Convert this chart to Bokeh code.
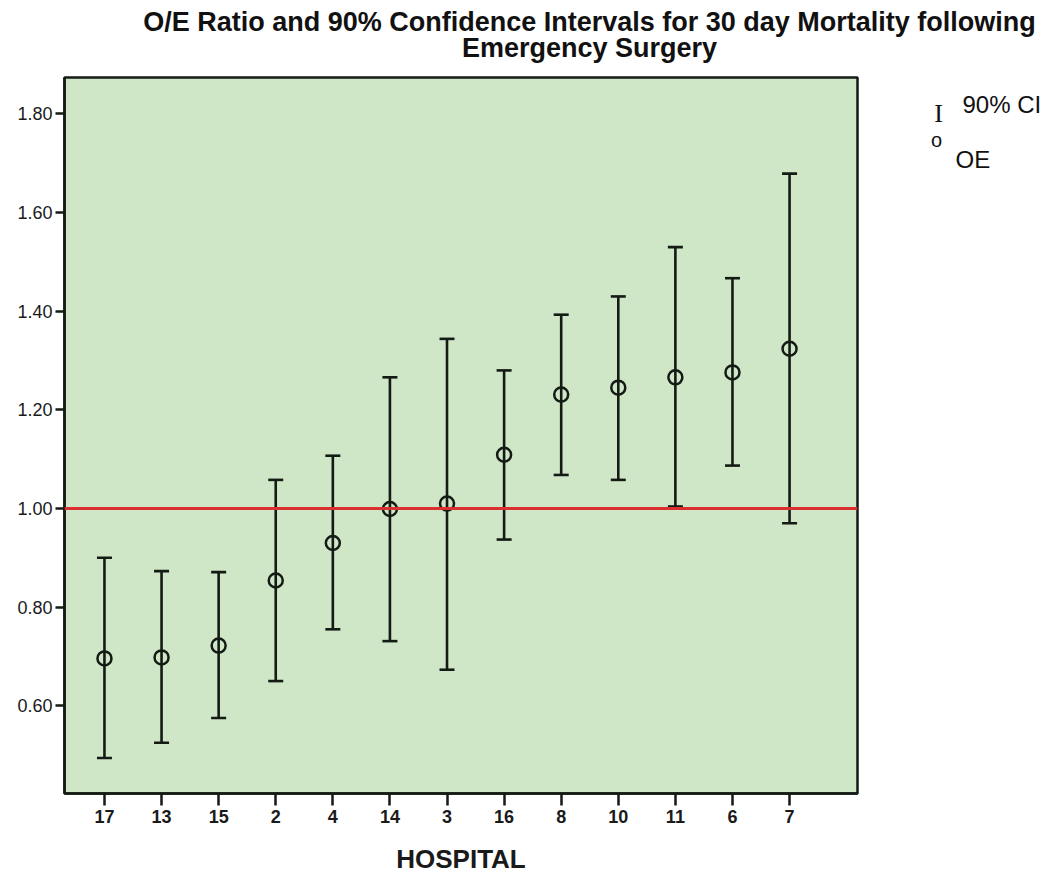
import numpy as np
from bokeh.plotting import figure
from bokeh.layouts import column, row
from bokeh.core.properties import value
from bokeh.models import (ColumnDataSource, Whisker, TeeHead, Span,
                          FixedTicker, NumeralTickFormatter, Range1d)
from bokeh.embed import file_html
from bokeh.resources import INLINE

# ---- data ----
hospitals = ["17", "13", "15", "2", "4", "14", "3", "16", "8", "10", "11", "6", "7"]
oe_ratio = [0.696, 0.698, 0.722, 0.854, 0.930, 0.999, 1.010, 1.109, 1.231, 1.245, 1.266, 1.276, 1.324]
ci_lower = [0.494, 0.525, 0.575, 0.650, 0.755, 0.731, 0.673, 0.937, 1.068, 1.058, 1.004, 1.087, 0.970]
ci_upper = [0.900, 0.873, 0.871, 1.058, 1.107, 1.266, 1.344, 1.280, 1.393, 1.430, 1.530, 1.467, 1.679]
y_ticks = [0.6, 0.8, 1.0, 1.2, 1.4, 1.6, 1.8]
reference_ratio = 1.0
title_lines = ["O/E Ratio and 90% Confidence Intervals for 30 day Mortality following",
               "Emergency Surgery"]
legend_labels = ["90% CI", "OE"]

FONT = "Liberation Sans"
INK = "#141a14"
TXT = "#111111"

W, H = 1055, 876
TITLE_H = 70
MAIN_W = 859

pos = list(range(1, len(hospitals) + 1))
src = ColumnDataSource(dict(x=pos, oe=oe_ratio, lower=ci_lower, upper=ci_upper))

# ---------------- main chart ----------------
p = figure(width=MAIN_W, height=H - TITLE_H, output_backend="svg", toolbar_location=None,
           x_range=Range1d(0.30, 14.19), y_range=Range1d(0.422, 1.874),
           min_border_left=64, min_border_right=2, min_border_top=7,
           min_border_bottom=83)
p.background_fill_color = "#cfe6c7"
p.border_fill_color = "white"
p.outline_line_color = INK
p.outline_line_width = 2.5
p.grid.visible = False

for ax in (p.xaxis[0], p.yaxis[0]):
    ax.axis_line_color = INK
    ax.axis_line_width = 2.5
    ax.major_tick_line_color = INK
    ax.major_tick_line_width = 2.5
    ax.major_tick_in = 0
    ax.minor_tick_line_color = None
    ax.major_label_text_font = FONT
    ax.major_label_text_color = "#1a1a1a"

p.xaxis.ticker = FixedTicker(ticks=pos)
p.xaxis.major_label_overrides = {i: h for i, h in zip(pos, hospitals)}
p.xaxis.major_tick_out = 12
p.xaxis.major_label_text_font_size = "18px"
p.xaxis.major_label_text_font_style = "bold"
p.xaxis.major_label_standoff = 4
p.xaxis.axis_label = "HOSPITAL"
p.xaxis.axis_label_text_font = FONT
p.xaxis.axis_label_text_font_size = "26px"
p.xaxis.axis_label_text_font_style = "bold"
p.xaxis.axis_label_text_color = "#1a1a1a"
p.xaxis.axis_label_standoff = 18

p.yaxis.ticker = FixedTicker(ticks=y_ticks)
p.yaxis.formatter = NumeralTickFormatter(format="0.00")
p.yaxis.major_tick_out = 9
p.yaxis.major_label_text_font_size = "18px"
p.yaxis.major_label_standoff = 3

whisk = Whisker(source=src, base="x", upper="upper", lower="lower",
                line_color=INK, line_width=2.6,
                upper_head=TeeHead(size=15, line_color=INK, line_width=2.6),
                lower_head=TeeHead(size=15, line_color=INK, line_width=2.6))
p.add_layout(whisk)
p.scatter("x", "oe", source=src, marker="circle", size=14, fill_color=None,
          line_color=INK, line_width=2.5)
p.add_layout(Span(location=reference_ratio, dimension="width",
                  line_color="#dc2f2f", line_width=3))


def blank(width, height, xr, yr):
    f = figure(width=width, height=height, output_backend="svg", toolbar_location=None,
               x_range=xr, y_range=yr, x_axis_location=None, y_axis_location=None,
               min_border=0)
    f.grid.visible = False
    f.outline_line_color = None
    f.background_fill_color = "white"
    f.border_fill_color = "white"
    return f


# ---------------- title strip ----------------
t = blank(W, TITLE_H, Range1d(0, W), Range1d(TITLE_H, 0))
t.text(x=[589, 589], y=[21, 47], text=title_lines,
       text_align="center", text_baseline="middle",
       text_font=value(FONT), text_font_size="27px", text_font_style="bold",
       text_color=TXT)

# ---------------- legend strip ----------------
lg = blank(W - MAIN_W, H - TITLE_H, Range1d(MAIN_W, W), Range1d(H, TITLE_H))
lg.text(x=[938], y=[111], text=["I"], text_align="center", text_baseline="middle",
        text_font=value("Liberation Serif"), text_font_size="26px", text_color=TXT)
lg.text(x=[936], y=[140], text=["o"], text_align="center", text_baseline="middle",
        text_font=value(FONT), text_font_size="20px", text_color=TXT)
lg.text(x=[962, 955], y=[100, 162], text=legend_labels, text_align="left",
        text_baseline="middle", text_font=value(FONT), text_font_size="24px",
        text_color=TXT)

layout = column(t, row(p, lg))
open("out.html", "w").write(file_html(layout, INLINE))
